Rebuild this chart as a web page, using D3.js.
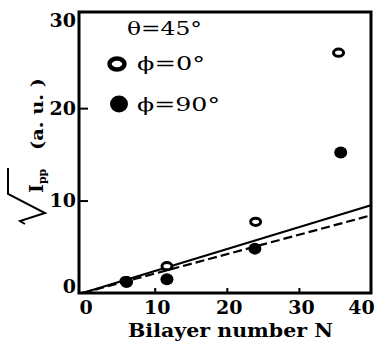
<!DOCTYPE html>
<html>
<head>
<meta charset="utf-8">
<script src="https://cdn.jsdelivr.net/npm/d3@7"></script>
<style>
  body { margin: 0; background: #fff; }
  text { font-family: "DejaVu Serif", "Liberation Serif", serif; fill: #000; }
</style>
</head>
<body>
<div id="chart"></div>
<script>
// bilayer number N for each measured film
var phi0N = [6, 11.7, 24, 35.5];
var phi0Val = [1.3, 2.9, 7.7, 26.0];
var phi90N = [6.1, 11.7, 23.9, 35.8];
var phi90Val = [1.2, 1.5, 4.8, 15.2];

// fitted lines (start / end)
var fitSolid = [[0, 0], [40, 9.5]];
var fitDashed = [[0, 0], [40, 8.4]];

var xTicks = [0, 10, 20, 30, 40];
var yTicks = [0, 10, 20, 30];

var width = 376, height = 347;

var svg = d3.select("#chart")
    .append("svg")
    .attr("width", width)
    .attr("height", height);

var xScale = d3.scaleLinear().domain([-0.5, 40]).range([79, 371]);
var yScale = d3.scaleLinear().domain([0, 30.4]).range([293, 12]);

// x axis, ticks point inward
var xAxis = d3.axisBottom(xScale)
    .tickValues(xTicks)
    .tickSizeInner(-5)
    .tickSizeOuter(0)
    .tickPadding(8)
    .tickFormat(d3.format("d"));

var gx = svg.append("g")
    .attr("transform", "translate(0," + yScale(0) + ")")
    .call(xAxis);
gx.select(".domain").remove();
gx.selectAll(".tick line")
    .attr("stroke", "#000").attr("stroke-width", 2)
    .filter(function (d) { return d === 0 || d === 40; }).remove();
gx.selectAll(".tick text")
    .style("font-size", "19px").style("font-weight", "bold")
    .attr("dx", function (d) { return d === 40 ? -10 : (d === 0 ? 3 : 2); });

// y axis
var yAxis = d3.axisLeft(yScale)
    .tickValues(yTicks)
    .tickSizeInner(-9)
    .tickSizeOuter(0)
    .tickPadding(3)
    .tickFormat(d3.format("d"));

var gy = svg.append("g")
    .attr("transform", "translate(" + xScale(-0.5) + ",0)")
    .call(yAxis);
gy.select(".domain").remove();
gy.selectAll(".tick line")
    .attr("stroke", "#000").attr("stroke-width", 2)
    .filter(function (d) { return d === 0 || d === 30; }).remove();
gy.selectAll(".tick text")
    .style("font-size", "19px").style("font-weight", "bold")
    .attr("dy", function (d) { return d === 0 ? "-0.05em" : (d === 30 ? "0.55em" : "0.32em"); });

// frame
svg.append("rect")
    .attr("x", xScale(-0.5))
    .attr("y", yScale(30.4))
    .attr("width", xScale(40) - xScale(-0.5))
    .attr("height", yScale(0) - yScale(30.4))
    .attr("fill", "none")
    .attr("stroke", "#000")
    .attr("stroke-width", 3);

// fit lines
var line = d3.line()
    .x(function (d) { return xScale(d[0]); })
    .y(function (d) { return yScale(d[1]); });

svg.append("path")
    .attr("d", line(fitSolid))
    .attr("fill", "none").attr("stroke", "#000").attr("stroke-width", 2.2);

svg.append("path")
    .attr("d", line(fitDashed))
    .attr("fill", "none").attr("stroke", "#000").attr("stroke-width", 2.2)
    .attr("stroke-dasharray", "9,4");

// phi = 0 (open)
svg.selectAll(".open")
    .data(phi0N)
    .enter().append("ellipse")
    .attr("class", "open")
    .attr("cx", function (d) { return xScale(d); })
    .attr("cy", function (d, i) { return yScale(phi0Val[i]); })
    .attr("rx", 5)
    .attr("ry", 3.6)
    .attr("fill", "#fff")
    .attr("stroke", "#000")
    .attr("stroke-width", 3);

// phi = 90 (filled)
svg.selectAll(".filled")
    .data(phi90N)
    .enter().append("ellipse")
    .attr("class", "filled")
    .attr("cx", function (d) { return xScale(d); })
    .attr("cy", function (d, i) { return yScale(phi90Val[i]); })
    .attr("rx", 6.5)
    .attr("ry", 6)
    .attr("fill", "#000");

// legend
var legend = svg.append("g");
legend.append("text")
    .attr("x", 127).attr("y", 35)
    .attr("textLength", 75).attr("lengthAdjust", "spacingAndGlyphs")
    .style("font-size", "19px")
    .text("θ=45°");
legend.append("ellipse")
    .attr("cx", 117).attr("cy", 64)
    .attr("rx", 7.5).attr("ry", 5.5)
    .attr("fill", "#fff").attr("stroke", "#000").attr("stroke-width", 4.5);
legend.append("text")
    .attr("x", 137).attr("y", 70)
    .attr("textLength", 68).attr("lengthAdjust", "spacingAndGlyphs")
    .style("font-size", "19px")
    .text("ϕ=0°");
legend.append("ellipse")
    .attr("cx", 119).attr("cy", 104)
    .attr("rx", 9).attr("ry", 8.5)
    .attr("fill", "#000");
legend.append("text")
    .attr("x", 137).attr("y", 111)
    .attr("textLength", 83).attr("lengthAdjust", "spacingAndGlyphs")
    .style("font-size", "19px")
    .text("ϕ=90°");

// x label
svg.append("text")
    .attr("x", 128).attr("y", 337)
    .attr("textLength", 205).attr("lengthAdjust", "spacingAndGlyphs")
    .style("font-size", "18px").style("font-weight", "bold")
    .text("Bilayer number N");

// y label with radical sign
svg.append("path")
    .attr("d", "M8,168 L8,194 L45,213 L20,221 L25,224")
    .attr("fill", "none").attr("stroke", "#000").attr("stroke-width", 2);

var ylab = svg.append("g").attr("transform", "translate(43,0) rotate(-90)");
ylab.append("text")
    .attr("x", -193).attr("y", 0)
    .style("font-size", "19px").style("font-weight", "bold")
    .text("I")
    .append("tspan").attr("dy", 3).style("font-size", "11px").text("pp");
ylab.append("text")
    .attr("x", -150).attr("y", 0)
    .attr("textLength", 72).attr("lengthAdjust", "spacingAndGlyphs")
    .style("font-size", "17px").style("font-weight", "bold")
    .text("(a. u. )");
</script>
</body>
</html>
